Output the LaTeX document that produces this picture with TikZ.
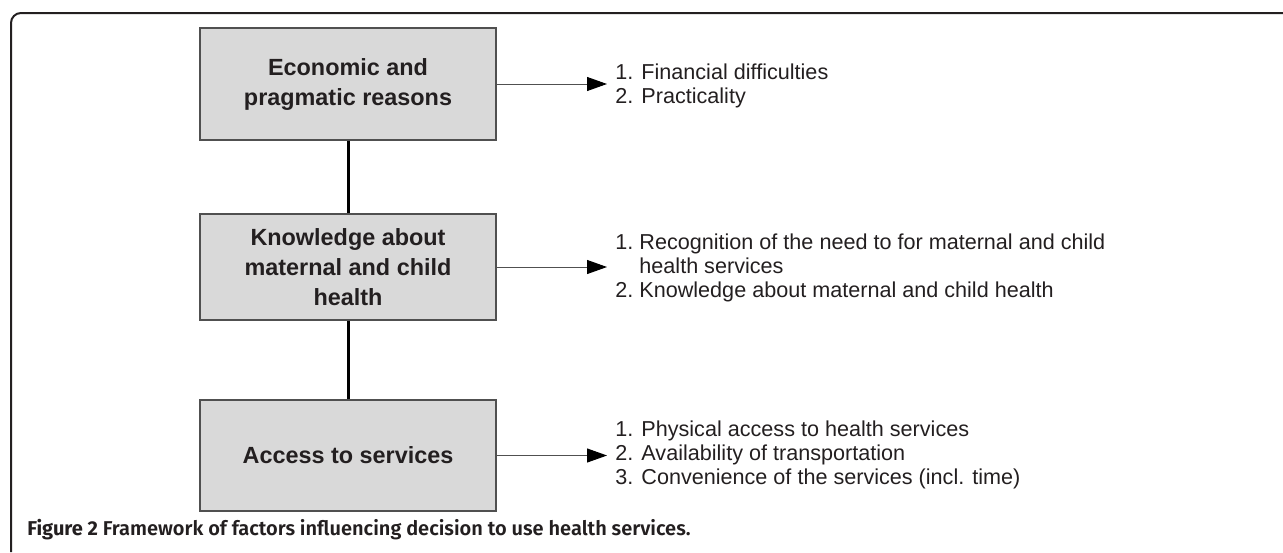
\documentclass[tikz,border=0pt]{standalone}
\usepackage{fontspec}
\setmainfont{Liberation Sans}
\newfontfamily\capfont{Fira Sans}[UprightFont=* SemiBold, BoldFont=* Bold]
\usepackage{tikz}
\usetikzlibrary{arrows.meta}
\definecolor{boxgray}{HTML}{D9D9D9}
\definecolor{inkgray}{HTML}{231F20}
\definecolor{edgegray}{HTML}{505050}

\begin{document}
\begin{tikzpicture}[x=0.5pt, y=-0.5pt,
    factor/.style={draw=edgegray, line width=0.6pt, fill=boxgray, minimum width=148pt,
        align=center, text=inkgray, font=\fontsize{11.7}{15}\selectfont\bfseries},
    items/.style={anchor=west, inner xsep=4pt, inner ysep=0pt, align=left, text=inkgray,
        font=\fontsize{10.8}{12}\selectfont},
    link/.style={line width=1.5pt, black},
    pointer/.style={-{Triangle[length=10pt, width=7pt, color=black]}, line width=0.5pt, edgegray}]
    \useasboundingbox (0,0) rectangle (1283,552);
    % Frame
    \draw[line width=1pt, inkgray, rounded corners=5pt] (11,552) -- (11,13) -- (1283,13);
    % Factor boxes
    \node[factor, minimum height=56pt] (econ) at (348,84) {Economic and\\pragmatic reasons};
    \node[factor, minimum height=53pt] (know) at (348,267) {Knowledge about\\maternal and child\\health};
    \node[factor, minimum height=55.5pt] (access) at (348,455.5) {Access to services};
    \draw[link] (econ) -- (know);
    \draw[link] (know) -- (access);
    % Lists of items
    \node[items] (econitems) at (607,86) {1. Financial difficulties\\2. Practicality};
    \node[items] (knowitems) at (607,269) {%
        \begin{tabular}{@{}l@{\ }l@{}}
        1. & Recognition of the need to for maternal and child\\
           & health services\\
        2. & Knowledge about maternal and child health
        \end{tabular}};
    \node[items] (accessitems) at (607,455) {1. Physical access to health services\\2. Availability of transportation\\3. Convenience of the services (incl. time)};
    \draw[pointer] (econ.east) -- (econ.east -| econitems.west);
    \draw[pointer] (know.east) -- (know.east -| knowitems.west);
    \draw[pointer] (access.east) -- (access.east -| accessitems.west);
    % Caption
    \node[anchor=base west, inner sep=0pt, text=inkgray, font=\capfont\fontsize{10}{11}\selectfont] (caption) at (27,535)
        {\textbf{Figure 2} Framework of factors influencing decision to use health services.};
\end{tikzpicture}
\end{document}
